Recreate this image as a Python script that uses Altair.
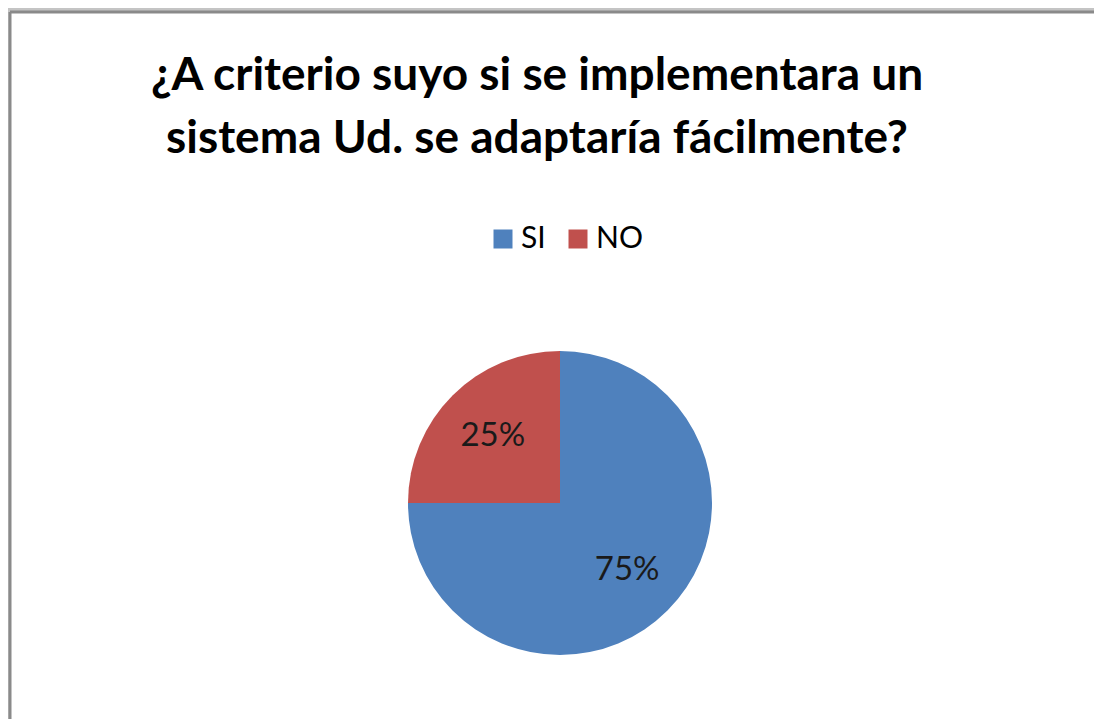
import altair as alt
import pandas as pd

# ---- data ----
categories = ["SI", "NO"]
values = [75, 25]
labels = ["75%", "25%"]
colors = ["#4F81BD", "#C0504D"]
title_lines = ["¿A criterio suyo si se implementara un",
               "sistema Ud. se adaptaría fácilmente?"]

df = pd.DataFrame({"cat": categories, "val": values, "label": labels,
                   "order": list(range(len(categories)))})

W, H = 1084, 707
CX, CY = 550, 491
R = 152
FONT = "Lato, Open Sans, sans-serif"

base = alt.Chart(df).encode(
    theta=alt.Theta("val:Q", stack=True),
    order=alt.Order("order:Q"),
)

pie = base.mark_arc(radius=R, strokeWidth=0).encode(
    x=alt.value(CX), y=alt.value(CY),
    color=alt.Color(
        "cat:N", sort=categories,
        scale=alt.Scale(domain=categories, range=colors),
        legend=alt.Legend(
            orient="none", legendX=478, legendY=212, direction="horizontal",
            title=None, symbolType="square", symbolSize=361,
            symbolStrokeWidth=0, symbolOpacity=1,
            labelFont=FONT, labelFontSize=30, labelColor="#000000",
            labelOffset=3, columnPadding=17, padding=0,
        ),
    ),
)

pct = base.mark_text(radius=95, font=FONT, fontSize=33,
                     color="#1a1a1a").encode(
    x=alt.value(CX), y=alt.value(CY), text="label:N")

frame_df = pd.DataFrame({"k": [0]})
top_rule = alt.Chart(frame_df).mark_rule(color="#8a8a8a", strokeWidth=3).encode(
    x=alt.value(0), x2=alt.value(W), y=alt.value(0))
left_rule = alt.Chart(frame_df).mark_rule(color="#8a8a8a", strokeWidth=3).encode(
    x=alt.value(0), y=alt.value(0), y2=alt.value(H))

t1 = alt.Chart(frame_df).mark_text(
    font=FONT, fontSize=46, fontWeight="bold", color="#000000",
    baseline="alphabetic", align="center").encode(
    x=alt.value(527), y=alt.value(78), text=alt.value(title_lines[0]))
t2 = alt.Chart(frame_df).mark_text(
    font=FONT, fontSize=46, fontWeight="bold", color="#000000",
    baseline="alphabetic", align="center").encode(
    x=alt.value(527), y=alt.value(141), text=alt.value(title_lines[1]))

chart = alt.layer(pie, pct, t1, t2, top_rule, left_rule).properties(
    width=W, height=H,
    background="#c4c4c4",
    padding={"left": 2, "top": 4, "right": 0, "bottom": 0},
    autosize=alt.AutoSizeParams(type="none"),
).configure_view(stroke=None, fill="white")

chart.save("out.html", embed_options={"renderer": "svg", "actions": False})
